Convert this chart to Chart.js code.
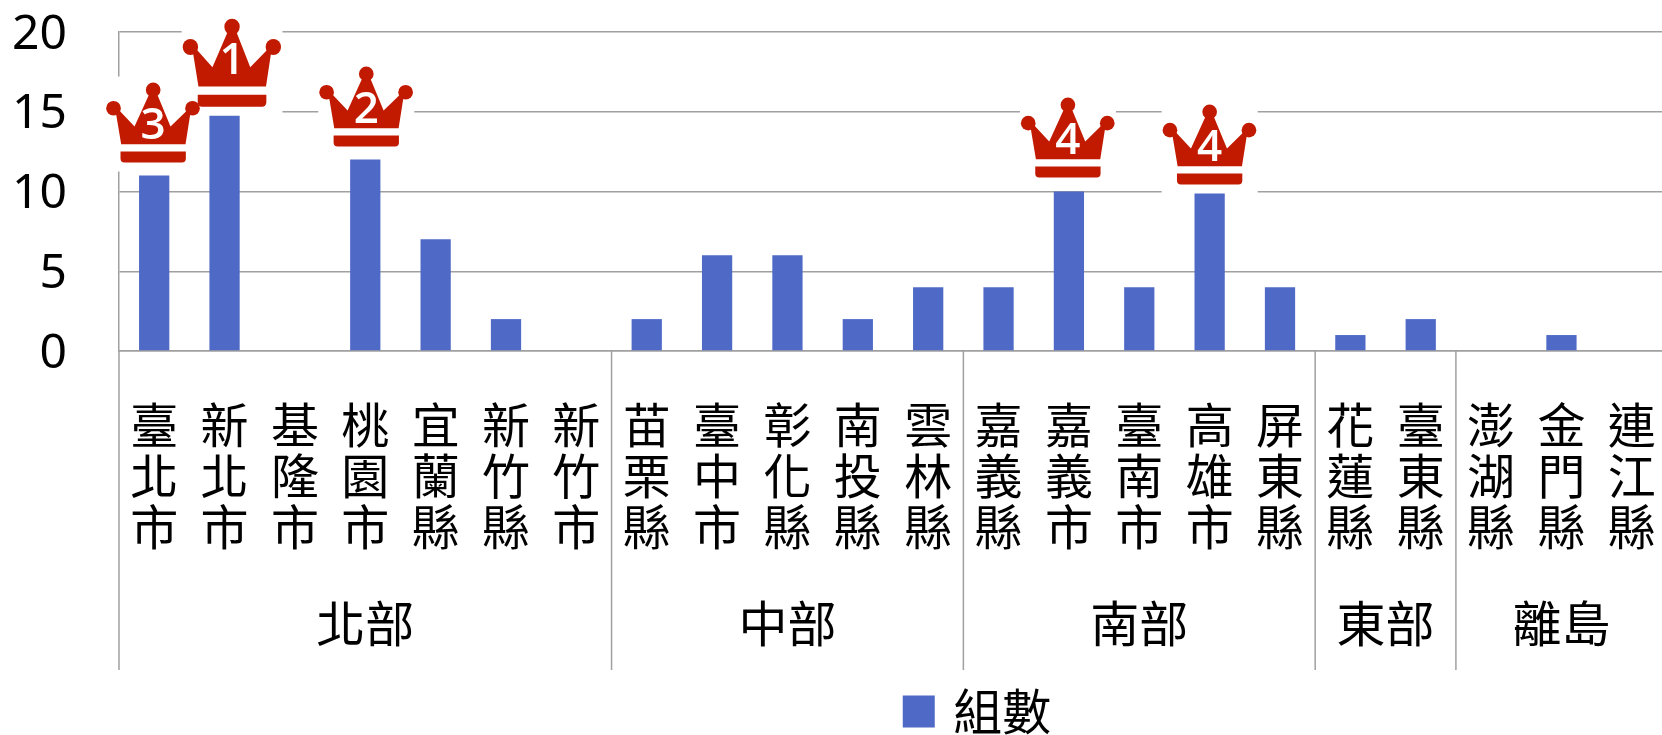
<!DOCTYPE html>
<html>
<head>
<meta charset="utf-8">
<style>
html,body{margin:0;padding:0;background:#fff;overflow:hidden;width:1662px;height:735px}
canvas{display:block}
</style>
<script src="https://cdn.jsdelivr.net/npm/chart.js@4"></script>
</head>
<body>
<canvas id="c" width="1960" height="735" style="width:1960px;height:735px"></canvas>
<script>
const counties = ["臺北市","新北市","基隆市","桃園市","宜蘭縣","新竹縣","新竹市","苗栗縣","臺中市","彰化縣","南投縣","雲林縣","嘉義縣","嘉義市","臺南市","高雄市","屏東縣","花蓮縣","臺東縣","澎湖縣","金門縣","連江縣"];
const counts = [11,15,0,12,7,2,0,2,6,6,2,4,4,10,4,10,4,1,2,0,1,0];
const groupNames = ["北部","中部","南部","東部","離島"];
const groupSizes = [7,5,5,2,3];
const seriesName = "組數";
const yTicks = [0,5,10,15,20];
const crownCounties = ["臺北市","新北市","桃園市","嘉義市","高雄市"];
const crownRanks = ["3","1","2","4","4"];

const FONT = '"Noto Sans CJK TC","Noto Sans",sans-serif';
const RED = '#C11A00';
const LINE = '#A0A0A0';
// placement of each crown relative to the tip of its bar
const crownLook = [
  {dx:-1, gap:13, sx:1, sy:1, ty:-36},
  {dx:7.5,gap:5,  sx:1.05, sy:1.1, ty:-45},
  {dx:1,  gap:13, sx:1, sy:1, ty:-36},
  {dx:-1, gap:14, sx:1, sy:1, ty:-36},
  {dx:0,  gap:7,  sx:1, sy:1, ty:-36}
];

function crownBox(ctx, cx, by, look){
  ctx.save();
  ctx.fillStyle = '#fff';
  const bw = 48*look.sx, bh = 95*look.sy;
  ctx.fillRect(cx-bw, by+9-bh, bw*2, bh);
  ctx.restore();
}
function drawCrown(ctx, cx, by, look, rank){
  ctx.save();
  ctx.translate(cx, by);
  ctx.save();
  ctx.scale(look.sx/3, look.sy/3);
  ctx.fillStyle = RED;
  ctx.beginPath();
  ctx.roundRect(-98,-33,196,33,[0,0,12,12]);
  ctx.fill();
  ctx.beginPath();
  ctx.moveTo(-96,-55);
  ctx.lineTo(-112,-150);
  ctx.lineTo(-100,-155);
  ctx.lineTo(-56,-108);
  ctx.lineTo(-12,-205);
  ctx.lineTo(12,-205);
  ctx.lineTo(52,-108);
  ctx.lineTo(100,-155);
  ctx.lineTo(112,-150);
  ctx.lineTo(97,-55);
  ctx.closePath();
  ctx.fill();
  [[0,-218],[-119,-163],[118,-163]].forEach(p=>{
    ctx.beginPath();ctx.arc(p[0],p[1],22,0,Math.PI*2);ctx.fill();
  });
  ctx.restore();
  ctx.fillStyle = '#fff';
  ctx.font = '600 44px "Open Sans",sans-serif';
  ctx.textAlign = 'center';
  ctx.textBaseline = 'middle';
  ctx.fillText(rank, 0, look.ty);
  ctx.restore();
}

const decorations = {
  id:'decorations',
  beforeDraw(chart){
    // the digits of the value axis sit a little below their gridline
    chart.scales.y.getLabelItems(chart.chartArea).forEach(it=>{ it.options.translation[1] += 3; });
  },
  afterDatasetsDraw(chart){
    const {ctx, scales:{x,y}} = chart;
    const place = (i)=>{
      const idx = counties.indexOf(crownCounties[i]);
      const look = crownLook[i];
      return [x.getPixelForValue(idx)+look.dx, y.getPixelForValue(counts[idx])-look.gap, look];
    };
    crownCounties.forEach((n,i)=>{ const [cx,by,look]=place(i); crownBox(ctx,cx,by,look); });
    crownCounties.forEach((n,i)=>{ const [cx,by,look]=place(i); drawCrown(ctx,cx,by,look,crownRanks[i]); });
  },
  afterDraw(chart){
    const {ctx, scales:{x,y}} = chart;
    const half = (x.getPixelForValue(1)-x.getPixelForValue(0))/2;
    const base = y.getPixelForValue(0);
    const bottom = 670;
    ctx.save();
    ctx.strokeStyle = LINE;
    ctx.lineWidth = 1.5;
    ctx.fillStyle = '#000';
    ctx.font = '49px '+FONT;
    ctx.textAlign = 'center';
    ctx.textBaseline = 'middle';
    let start = 0;
    const line = px=>{ctx.beginPath();ctx.moveTo(px,base);ctx.lineTo(px,bottom);ctx.stroke();};
    line(x.getPixelForValue(0)-half);
    groupNames.forEach((g,i)=>{
      const end = start+groupSizes[i];
      const l = x.getPixelForValue(start)-half, r = x.getPixelForValue(end-1)+half;
      line(r);
      ctx.fillText(g,(l+r)/2,623);
      start = end;
    });
    ctx.restore();
  }
};

new Chart(document.getElementById('c'),{
  type:'bar',
  data:{
    labels:counties.map(n=>[...n]),
    datasets:[{label:seriesName,data:counts,backgroundColor:'#4F69C6',borderWidth:0,barPercentage:0.43,categoryPercentage:1}]
  },
  options:{
    responsive:false,
    animation:false,
    layout:{padding:{top:32,right:0,left:0,bottom:-11}},
    plugins:{
      tooltip:{enabled:false},
      legend:{
        position:'bottom',
        labels:{usePointStyle:true,pointStyle:'rect',boxWidth:20,boxHeight:32,color:'#000',font:{family:FONT,size:49,lineHeight:1},padding:0}
      }
    },
    scales:{
      x:{
        afterFit(s){s.height=336;s.paddingRight=293;s.paddingLeft=0;},
        grid:{display:false},
        border:{display:true,color:LINE,width:1.5},
        ticks:{autoSkip:false,maxRotation:0,minRotation:0,padding:40,color:'#000',font:{family:FONT,size:48,lineHeight:1.0625}}
      },
      y:{
        min:0,max:20,
        afterFit(s){s.width=119;s.paddingTop=0;s.paddingBottom=0;},
        afterBuildTicks(s){s.ticks=yTicks.map(v=>({value:v}));},
        grid:{color:LINE,lineWidth:1.5,drawTicks:false},
        border:{display:true,color:LINE,width:1.5},
        ticks:{padding:52,color:'#000',font:{family:'"Noto Sans",sans-serif',size:48}}
      }
    }
  },
  plugins:[decorations]
});
</script>
</body>
</html>
